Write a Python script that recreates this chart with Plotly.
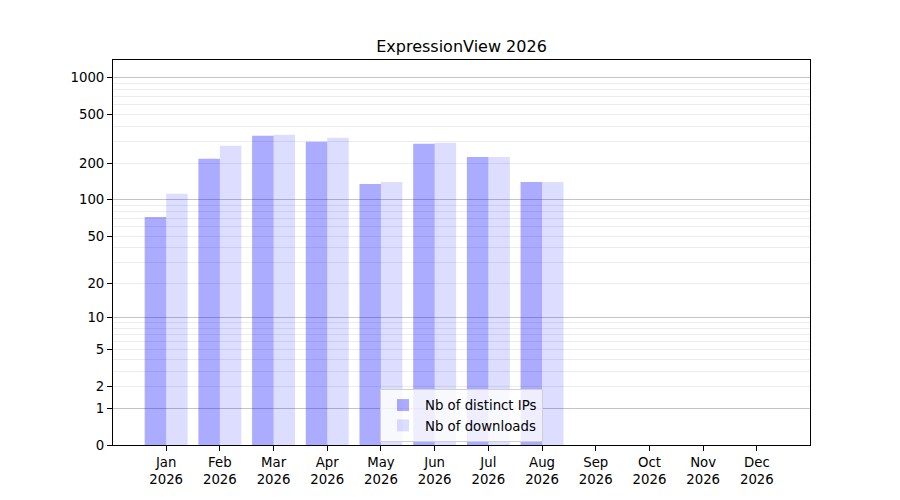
import plotly.graph_objects as go

# Monthly stats for ExpressionView
months = ["Jan", "Feb", "Mar", "Apr", "May", "Jun",
          "Jul", "Aug", "Sep", "Oct", "Nov", "Dec"]
year = 2026
distinct_ips = [72, 217, 335, 299, 135, 288, 225, 140, 0, 0, 0, 0]
downloads = [112, 278, 342, 323, 140, 294, 225, 140, 0, 0, 0, 0]

# Axis ticks (y is drawn as log(y + 1) so that 0 fits on the axis)
y_ticks = [0, 1, 2, 5, 10, 20, 50, 100, 200, 500, 1000]
grid_major = [1, 10, 100, 1000]
grid_minor = [m * d for d in (1, 10, 100) for m in range(2, 10)]

x = list(range(len(months)))
tick_labels = [f"{m}<br>{year}" for m in months]


def shift(values):
    return [v + 1 for v in values]


fig = go.Figure()
fig.add_trace(go.Bar(
    x=x, y=shift(distinct_ips), name="Nb of distinct IPs",
    marker_color="rgba(0,0,255,0.33)", marker_line_width=0,
    customdata=distinct_ips, hovertemplate="%{customdata}<extra></extra>",
))
fig.add_trace(go.Bar(
    x=x, y=shift(downloads), name="Nb of downloads",
    marker_color="rgba(0,0,255,0.135)", marker_line_width=0,
    customdata=downloads, hovertemplate="%{customdata}<extra></extra>",
))
# invisible trace that carries the darker major gridlines
fig.add_trace(go.Scatter(x=[None], y=[None], yaxis="y2", showlegend=False,
                         hoverinfo="skip"))

y_range = [0, 3.146]

# the page adds an 8px body margin, so the margins are shifted to compensate
fig.update_layout(
    width=900, height=500,
    margin=dict(l=105, r=98, t=52, b=63),
    paper_bgcolor="white", plot_bgcolor="white",
    font=dict(family="DejaVu Sans", size=13.3, color="black"),
    title=dict(text="ExpressionView 2026", x=0.5, xref="paper",
               y=1 - 38 / 500, yanchor="middle",
               font=dict(size=16, color="black")),
    barmode="group", bargap=0.2, bargroupgap=0,
    showlegend=True,
    legend=dict(x=0.5, xanchor="center", y=0.008, yanchor="bottom",
                bgcolor="rgba(255,255,255,0.8)", bordercolor="#d0d0d0",
                borderwidth=1, font=dict(size=13.3), itemwidth=34),
    xaxis=dict(
        range=[-0.99, 11.99], tickmode="array", tickvals=x,
        ticktext=tick_labels, ticks="outside", ticklen=5, tickcolor="black",
        showline=True, linecolor="black", linewidth=1, mirror=True,
        showgrid=False, zeroline=False,
    ),
    yaxis=dict(
        type="log", range=y_range, tickmode="array",
        tickvals=shift(y_ticks), ticktext=[str(t) for t in y_ticks],
        ticks="outside", ticklen=5, tickcolor="black",
        showline=True, linecolor="black", linewidth=1, mirror=True,
        showgrid=False, zeroline=False,
        minor=dict(tickmode="array", tickvals=shift(grid_minor),
                   showgrid=True, gridcolor="#ececec", gridwidth=1, ticks=""),
    ),
    yaxis2=dict(
        type="log", range=y_range, overlaying="y", side="left",
        tickmode="array", tickvals=shift(grid_major),
        showticklabels=False, ticks="", showline=False,
        showgrid=True, gridcolor="#c4c4c4", gridwidth=1, zeroline=False,
    ),
)

fig.write_html("out.html")
